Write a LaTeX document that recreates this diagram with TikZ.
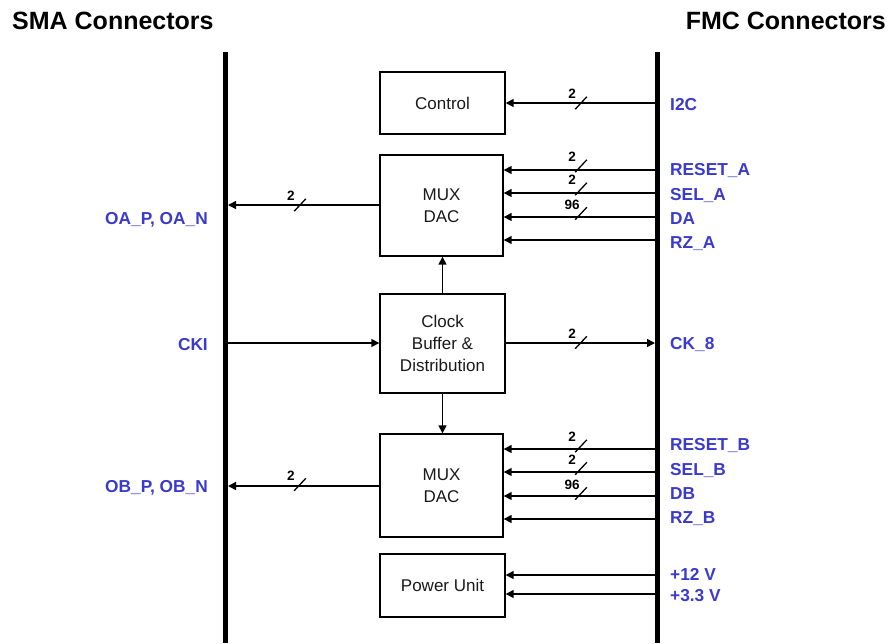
\documentclass[tikz,border=0pt]{standalone}
\usepackage{fontspec}
\setmainfont{Liberation Sans}
\usetikzlibrary{arrows.meta}
\definecolor{pinblue}{RGB}{58,58,204}
\definecolor{boxtext}{RGB}{25,25,25}
\begin{document}
\begin{tikzpicture}[x=1pt,y=-1pt,
  box/.style={draw, line width=1.4pt, align=center, inner sep=0pt, text=boxtext,
    font=\fontsize{17}{22}\selectfont},
  sig/.style={line width=1.5pt, -{Triangle[length=8pt,width=8pt]}},
  busbar/.style={line width=5pt},
  pinr/.style={text=pinblue, font=\fontsize{17.3}{20}\selectfont\bfseries, anchor=base west, inner sep=0pt},
  pinl/.style={text=pinblue, font=\fontsize{17.3}{20}\selectfont\bfseries, anchor=base east, inner sep=0pt},
  title/.style={font=\fontsize{25}{29}\selectfont\bfseries, inner sep=0pt},
  buswidth/.style={font=\fontsize{13.5}{16}\selectfont\bfseries, inner sep=0pt},
  slash/.style={line width=1.3pt}
]
\useasboundingbox (0,0) rectangle (888,643);

% titles
\node[title, anchor=west] (tl) at (12,21) {SMA Connectors};
\node[title, anchor=east] (tr) at (886,21) {FMC Connectors};

% connector bars
\coordinate (lbt) at (225.5,52);
\coordinate (lbb) at (225.5,643);
\coordinate (rbt) at (657.5,52);
\coordinate (rbb) at (657.5,643);
\draw[busbar] (lbt) -- (lbb);
\draw[busbar] (rbt) -- (rbb);

% boxes
\node[box, minimum width=125pt, minimum height=62pt] (ctrl) at (442.5,103) {Control};
\node[box, minimum width=123pt, minimum height=101pt] (muxa) at (441.5,205.5) {MUX\\DAC};
\node[box, minimum width=125pt, minimum height=99pt] (clk) at (442.5,343.5) {Clock\\Buffer \&\\Distribution};
\node[box, minimum width=123pt, minimum height=103pt] (muxb) at (441.5,485.5) {MUX\\DAC};
\node[box, minimum width=125pt, minimum height=63pt] (pwr) at (442.5,585.5) {Power Unit};

% right side pins (coordinates on bar edge)
\coordinate (pI2C) at (655,103);
\coordinate (pRA) at (655,170);
\coordinate (pSA) at (655,193);
\coordinate (pDA) at (655,217);
\coordinate (pZA) at (655,240);
\coordinate (pCK) at (655,343);
\coordinate (pRB) at (655,449);
\coordinate (pSB) at (655,472);
\coordinate (pDB) at (655,496);
\coordinate (pZB) at (655,519);
\coordinate (p12) at (655,575);
\coordinate (p33) at (655,594);
% left side pins
\coordinate (pOA) at (228,205);
\coordinate (pCKI) at (228,343);
\coordinate (pOB) at (228,486);

% right labels
\node[pinr] (lI2C) at (670,110) {I2C};
\node[pinr] (lRA) at (670,175) {RESET\_A};
\node[pinr] (lSA) at (670,200) {SEL\_A};
\node[pinr] (lDA) at (670,224) {DA};
\node[pinr] (lZA) at (670,248) {RZ\_A};
\node[pinr] (lCK) at (670,349) {CK\_8};
\node[pinr] (lRB) at (670,450.5) {RESET\_B};
\node[pinr] (lSB) at (670,475) {SEL\_B};
\node[pinr] (lDB) at (670,499) {DB};
\node[pinr] (lZB) at (670,523) {RZ\_B};
\node[pinr] (l12) at (670,580.5) {+12 V};
\node[pinr] (l33) at (670,601.5) {+3.3 V};
% left labels
\node[pinl] (lOA) at (208,224) {OA\_P, OA\_N};
\node[pinl] (lCKI) at (208,350) {CKI};
\node[pinl] (lOB) at (208,492) {OB\_P, OB\_N};

% signals
\draw[sig] (pI2C) -- (ctrl.east |- pI2C);
\draw[sig] (pRA) -- (muxa.east |- pRA);
\draw[sig] (pSA) -- (muxa.east |- pSA);
\draw[sig] (pDA) -- (muxa.east |- pDA);
\draw[sig] (pZA) -- (muxa.east |- pZA);
\draw[sig] (muxa.west |- pOA) -- (pOA);
\draw[sig] (pCKI) -- (clk.west |- pCKI);
\draw[sig] (clk.east |- pCK) -- (pCK);
\draw[sig] (clk.north) -- (clk.north |- muxa.south);
\draw[sig] (clk.south) -- (clk.south |- muxb.north);
\draw[sig] (pRB) -- (muxb.east |- pRB);
\draw[sig] (pSB) -- (muxb.east |- pSB);
\draw[sig] (pDB) -- (muxb.east |- pDB);
\draw[sig] (pZB) -- (muxb.east |- pZB);
\draw[sig] (muxb.west |- pOB) -- (pOB);
\draw[sig] (p12) -- (pwr.east |- p12);
\draw[sig] (p33) -- (pwr.east |- p33);

% bus width marks
\foreach \cx/\cy/\lab in {581/103/2, 581/166/2, 581/189/2, 581/213.5/96, 581/342.5/2,
                          581/446/2, 581/468.5/2, 581/493.5/96, 300/205/2, 300/484.5/2}{
  \draw[slash] (\cx-5.8,\cy+6.2) -- (\cx+5.8,\cy-6.2);
  \node[buswidth] at (\cx-9,\cy-9) {\lab};
}
\end{tikzpicture}
\end{document}
